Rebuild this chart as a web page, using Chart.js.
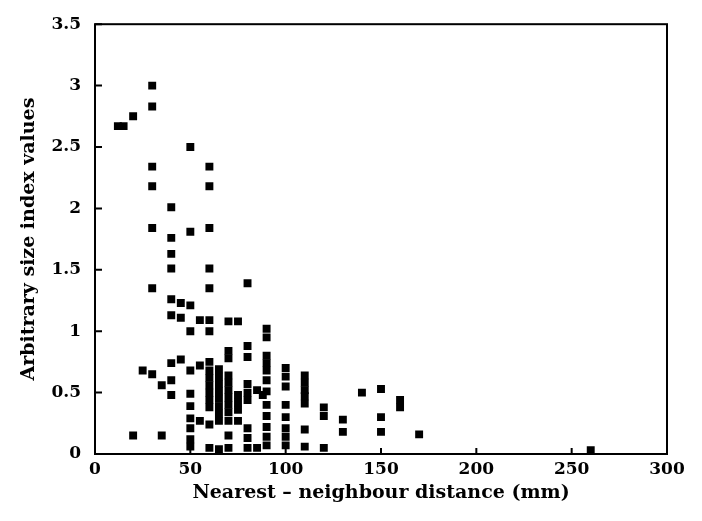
<!DOCTYPE html>
<html>
<head>
<meta charset="utf-8">
<script src="https://cdn.jsdelivr.net/npm/chart.js@4/dist/chart.umd.min.js"></script>
<style>
  html, body { margin: 0; padding: 0; background: #fff; }
  #wrap { width: 702px; height: 521px; }
</style>
</head>
<body>
<div id="wrap"><canvas id="chart" width="702" height="521"></canvas></div>
<script>
// distance columns (mm) and the size index values
const distances = [12, 15, 20, 25, 30, 35, 40, 45, 50, 55, 60, 65, 70, 75, 80, 85, 88, 90, 100, 110, 120, 130, 140, 150, 160, 170, 260];
const sizeValues = [
    [2.67],
    [2.67],
    [2.75, 0.15],
    [0.68],
    [3.0, 2.83, 2.34, 2.18, 1.84, 1.35, 0.65],
    [0.56, 0.15],
    [2.01, 1.76, 1.63, 1.51, 1.26, 1.13, 0.74, 0.60, 0.48],
    [1.23, 1.11, 0.77],
    [2.50, 1.81, 1.21, 1.00, 0.68, 0.49, 0.39, 0.29, 0.21, 0.12, 0.06],
    [1.09, 0.72, 0.27],
    [2.34, 2.18, 1.84, 1.51, 1.35, 1.09, 1.00, 0.75, 0.68, 0.62, 0.56, 0.50, 0.44, 0.38, 0.24, 0.05],
    [0.69, 0.63, 0.57, 0.51, 0.45, 0.39, 0.33, 0.27, 0.04],
    [1.08, 0.84, 0.78, 0.64, 0.58, 0.52, 0.46, 0.40, 0.34, 0.27, 0.15, 0.05],
    [1.08, 0.48, 0.42, 0.36, 0.27],
    [1.39, 0.88, 0.79, 0.57, 0.50, 0.44, 0.21, 0.13, 0.05],
    [0.52, 0.05],
    [0.48],
    [1.02, 0.95, 0.80, 0.74, 0.68, 0.60, 0.51, 0.40, 0.31, 0.22, 0.14, 0.07],
    [0.70, 0.63, 0.55, 0.40, 0.30, 0.21, 0.14, 0.07],
    [0.64, 0.58, 0.52, 0.47, 0.41, 0.20, 0.06],
    [0.38, 0.31, 0.05],
    [0.28, 0.18],
    [0.50],
    [0.53, 0.30, 0.18],
    [0.44, 0.38],
    [0.16],
    [0.03]
];
const xTicks = [0, 50, 100, 150, 200, 250, 300];
const yTicks = [0, 0.5, 1, 1.5, 2, 2.5, 3, 3.5];

const points = [];
distances.forEach((d, i) => sizeValues[i].forEach(v => points.push({ x: d, y: v })));

const FONT = "'DejaVu Serif', serif";

// box round the plot + short inward tick marks
const framePlugin = {
    id: 'frame',
    afterDraw(chart) {
        const { ctx, chartArea: a, scales } = chart;
        ctx.save();
        ctx.strokeStyle = '#000';
        ctx.lineWidth = 2;
        ctx.strokeRect(a.left, a.top, a.right - a.left, a.bottom - a.top);
        ctx.beginPath();
        xTicks.forEach(t => {
            const px = scales.x.getPixelForValue(t);
            ctx.moveTo(px, a.bottom);
            ctx.lineTo(px, a.bottom - 6);
        });
        yTicks.forEach(t => {
            const py = scales.y.getPixelForValue(t);
            ctx.moveTo(a.left, py);
            ctx.lineTo(a.left + 7, py);
        });
        ctx.stroke();
        ctx.restore();
    }
};

new Chart(document.getElementById('chart'), {
    type: 'scatter',
    data: {
        datasets: [{
            data: points,
            pointStyle: 'rect',
            pointRadius: 5.6,
            pointHoverRadius: 5.6,
            backgroundColor: '#000',
            borderColor: '#000',
            borderWidth: 0
        }]
    },
    options: {
        responsive: false,
        animation: false,
        layout: { padding: { top: 18, right: 35, left: 18, bottom: 0 } },
        plugins: { legend: { display: false }, tooltip: { enabled: false } },
        scales: {
            x: {
                type: 'linear',
                min: 0, max: 300,
                afterBuildTicks: s => { s.ticks = xTicks.map(v => ({ value: v })); },
                afterFit: s => { s.height = 67; },
                grid: { display: false, drawTicks: false },
                border: { display: false },
                ticks: { color: '#000', padding: 5, maxRotation: 0, font: { family: FONT, size: 17, weight: 'bold' } },
                title: {
                    display: true,
                    text: 'Nearest – neighbour distance (mm)',
                    color: '#000',
                    padding: { top: 0, bottom: 17 },
                    font: { family: FONT, size: 19, weight: 'bold' }
                }
            },
            y: {
                type: 'linear',
                min: 0, max: 3.5,
                afterBuildTicks: s => { s.ticks = yTicks.map(v => ({ value: v })); },
                afterFit: s => { s.width = 77; },
                grid: { display: false, drawTicks: false },
                border: { display: false },
                ticks: {
                    color: '#000', padding: 14,
                    font: { family: FONT, size: 17, weight: 'bold' },
                    callback: v => String(v)
                },
                title: {
                    display: true,
                    text: 'Arbitrary size index values',
                    color: '#000',
                    padding: { top: 0, bottom: 0 },
                    font: { family: FONT, size: 19, weight: 'bold' }
                }
            }
        }
    },
    plugins: [framePlugin]
});
</script>
</body>
</html>
